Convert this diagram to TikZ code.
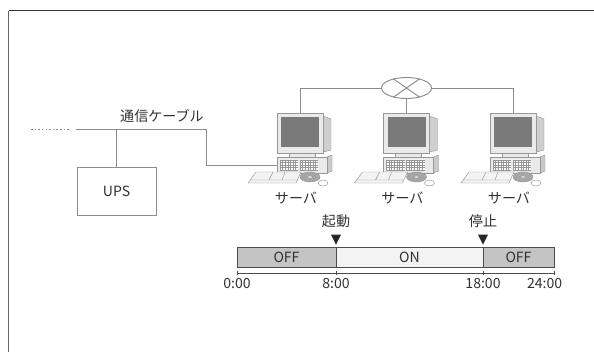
\documentclass[tikz,border=0pt]{standalone}
\usepackage{fontspec}
\setmainfont{Noto Sans CJK JP}
\usetikzlibrary{shapes.geometric, positioning, calc}
\definecolor{LineGray}{RGB}{140,140,140}
\definecolor{TextGray}{RGB}{50,50,50}
\definecolor{OffGray}{RGB}{196,196,196}
\definecolor{OnGray}{RGB}{243,243,243}
\definecolor{ScreenGray}{RGB}{122,122,122}
\definecolor{CaseGray}{RGB}{234,234,234}

\begin{document}
\begin{tikzpicture}[x=0.03cm, y=-0.03cm,
  font=\fontsize{12}{14}\selectfont, text=TextGray,
  wire/.style={draw=LineGray, line width=0.8pt},
  fine/.style={draw=LineGray!90, line width=0.4pt},
  box style/.style={
    draw=LineGray,
    line width=0.8pt,
    minimum width=2.37cm,
    minimum height=1.44cm,
  },
  hub style/.style={
    draw=LineGray,
    line width=0.8pt,
    ellipse,
    minimum width=1.5cm,
    minimum height=0.63cm,
    inner sep=0pt,
  },
  monitor style/.style={
    fine,
    fill=CaseGray,
    minimum width=1.38cm,
    minimum height=1.2cm,
    inner sep=0pt,
  },
  case style/.style={
    fine,
    fill=CaseGray,
    minimum width=1.5cm,
    minimum height=0.48cm,
    inner sep=0pt,
  },
  bar style/.style={
    draw=black!70,
    line width=0.8pt,
    fill=#1,
    minimum height=0.6cm,
    inner sep=0pt,
    outer sep=0pt,
  },
  tri style/.style={
    isosceles triangle,
    isosceles triangle stretches,
    shape border rotate=-90,
    fill=black!85,
    minimum width=0.3cm,
    minimum height=0.3cm,
    inner sep=0pt,
    anchor=apex,
  },
  axis/.style={draw=black!70, line width=0.6pt}
]
\useasboundingbox (0,0) rectangle (594,352);

% frame
\draw[black!80, line width=1.2pt] (8.5,10.5) -- (594,10.5);
\draw[black!60, line width=1.2pt] (8.5,10.5) -- (8.5,352);

% servers
\foreach \i/\x in {1/277, 2/383.5, 3/490}{
  \draw[fine, fill=CaseGray!75!gray] (\x+46,116) -- (\x+54,119) -- (\x+54,150) -- (\x+46,152) -- cycle;
  \node[monitor style] (mon\i) at (\x+23,133) {};
  \fill[ScreenGray] (\x+4,117) rectangle (\x+42,147);
  \draw[fine, fill=CaseGray] (\x+12,153) rectangle (\x+38,157);
  \draw[fine, fill=CaseGray!70!gray] (\x+50,157) -- (\x+55,155) -- (\x+55,171) -- (\x+50,173) -- cycle;
  \node[case style] (box\i) at (\x+25,165) {};
  \fill[white] (\x+3,159.5) rectangle (\x+21,170.5) (\x+23,159.5) rectangle (\x+41,170.5);
  \foreach \k in {0,...,4}
    \draw[fine] (\x+3,160+2.5*\k) -- (\x+21,160+2.5*\k) (\x+23,160+2.5*\k) -- (\x+41,160+2.5*\k);
  \foreach \k in {0,...,6}
    \draw[fine] (\x+3+2.6*\k,159.5) -- ++(0,11) (\x+23+2.6*\k,159.5) -- ++(0,11);
  % keyboard, disk and mouse
  \draw[fine, fill=OnGray] (\x-29,183) -- (\x+19,183) -- (\x+24,172) -- (\x-21,172) -- cycle;
  \draw[fine] (\x-27,180) -- (\x+20,180) (\x-4,172) -- (\x-8,180) (\x+8,172) -- (\x+5,180);
  \draw[fine, fill=gray!70] (\x+33,177) ellipse [x radius=0.3cm, y radius=0.15cm];
  \draw[fine, fill=gray!30] (\x+33,177) ellipse [x radius=0.08cm, y radius=0.04cm];
  \draw[fine, fill=white] (\x+46,183) ellipse [x radius=0.15cm, y radius=0.09cm];
  \node (lbl\i) at (\x+19,198) {サーバ};
}

% network between the servers
\node[hub style] (hub) at (406.5,88) {};
\draw[wire] (hub.145) -- (hub.-35) (hub.35) -- (hub.-145);
\draw[wire] (mon1.north) |- (hub.west);
\draw[wire] (mon3.north) |- (hub.east);
\draw[wire] (hub.south) -- (mon2.north);

% UPS and cable
\node[box style] (ups) at (116.5,191) {UPS};
\coordinate (cab) at (76,129.5);
\coordinate (dot) at (31,129.5);
\draw[wire, line width=1pt, dash pattern=on 1.3pt off 1.8pt] (dot) -- ++(39,0);
\draw[wire] (cab) -- ++(130,0) |- (box1.west);
\draw[wire] (ups.north) -- (ups.north |- cab);
\node (cable) at (162,116) {通信ケーブル};

% schedule bar
\node[bar style=OffGray, minimum width=2.97cm] (off1) at (286.5,257) {OFF};
\node[bar style=OnGray, minimum width=4.41cm, right=0pt of off1] (on) {ON};
\node[bar style=OffGray, minimum width=2.13cm, right=0pt of on] (off2) {OFF};

\node[tri style] (go) at ([yshift=1.5pt]on.north west) {};
\node[above=2pt of go] (golbl) {起動};
\node[tri style] (stop) at ([yshift=1.5pt]on.north east) {};
\node[above=2pt of stop] (stoplbl) {停止};

\draw[axis] ([yshift=-5pt]off1.south west) -- ([yshift=-5pt]off2.south east);
\foreach \p in {off1.south west, on.south west, on.south east, off2.south east}
  \draw[axis] ([yshift=-3pt]\p) -- ([yshift=-7pt]\p);

\node[below=6pt of off1.south west] (t0) {0:00};
\node[below=6pt of on.south west] (t8) {8:00};
\node[below=6pt of on.south east] (t18) {18:00};
\node[below=6pt of off2.south east, xshift=-8pt] (t24) {24:00};

\end{tikzpicture}
\end{document}
